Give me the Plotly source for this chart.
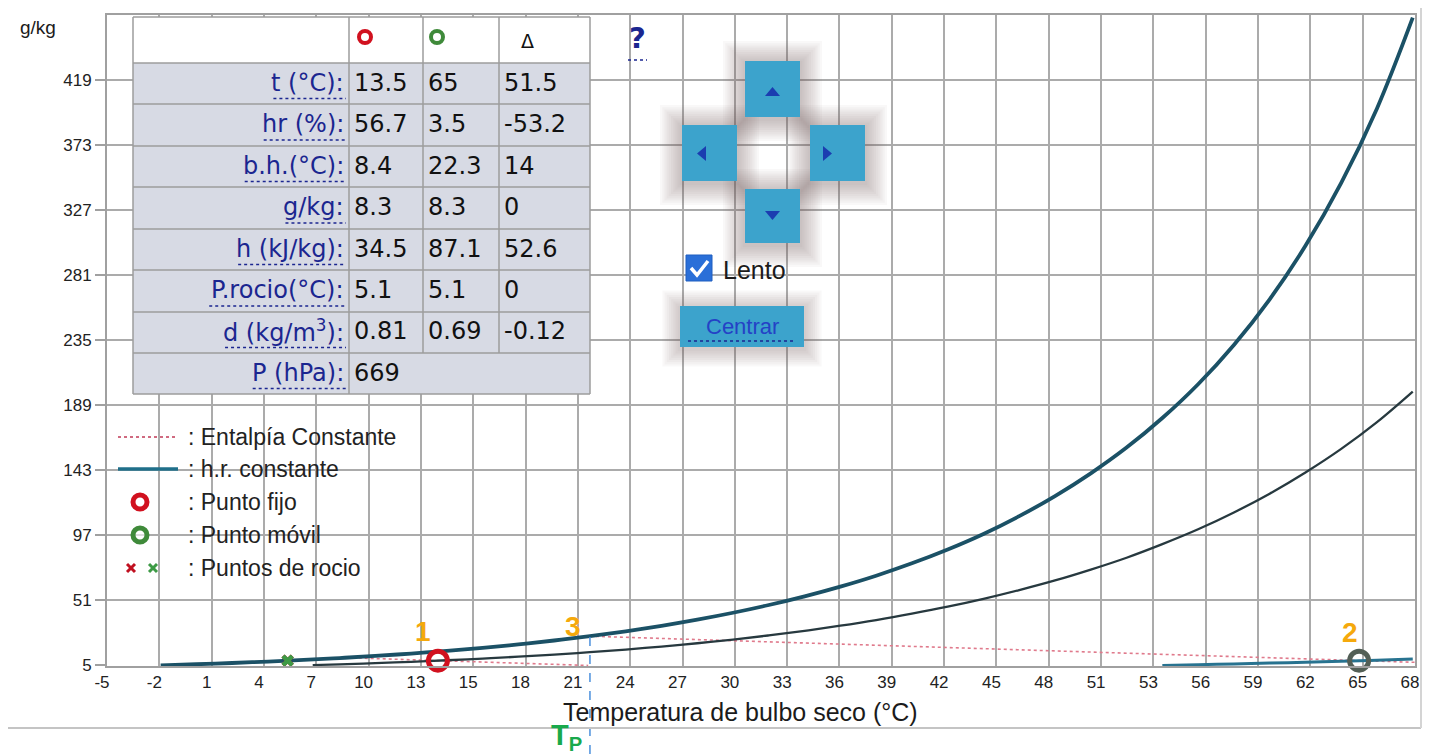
import plotly.graph_objects as go

# ---------------- data ----------------
# saturation curve (100 % h.r.) at 669 hPa
sat_t = [-2, 0, 2, 4, 6, 8, 10, 12, 14, 16, 18, 20, 22, 24, 26, 28, 30, 32, 34, 36,
         38, 40, 42, 44, 46, 48, 50, 52, 54, 56, 58, 60, 62, 64, 66, 68]
sat_w = [4.84, 5.73, 6.63, 7.65, 8.81, 10.14, 11.63, 13.31, 15.23, 17.37, 19.80, 22.54,
         25.60, 29.05, 32.92, 37.27, 42.16, 47.64, 53.78, 60.66, 68.38, 77.12, 86.9, 97.9,
         110.5, 124.7, 140.8, 159.0, 179.9, 203.8, 231.6, 263.9, 301.7, 346.2, 398.9, 463.1]
# constant h.r. through fixed point (56.7 %)
hr_fijo_t = [6.5, 8, 10, 12, 14, 16, 18, 20, 22, 24, 26, 28, 30, 32, 34, 36, 38, 40, 42, 44,
             46, 48, 50, 52, 54, 56, 58, 60, 62, 64, 66, 68]
hr_fijo_w = [5.15, 5.71, 6.54, 7.48, 8.55, 9.73, 11.07, 12.58, 14.27, 16.14, 18.25, 20.59,
             23.2, 26.14, 29.40, 33.0, 37.0, 41.5, 46.45, 52.0, 58.2, 65.0, 72.7, 81.1,
             90.7, 101.2, 113.1, 126.4, 141.4, 158.1, 177.0, 198.6]
# constant h.r. through moving point (3.5 %)
hr_movil_t = [54, 56, 58, 60, 62, 64, 66, 68]
hr_movil_w = [4.92, 5.42, 5.96, 6.55, 7.19, 7.87, 8.62, 9.43]
# constant enthalpy lines
ent_fijo_t = [8.4, 13.5, 21.9]
ent_fijo_w = [10.4, 8.3, 4.9]
ent_movil_t = [22.0, 65, 68.1]
ent_movil_w = [25.6, 8.3, 7.1]
# points
fijo_t, fijo_w = 13.5, 8.3
movil_t, movil_w = 65, 8.3
rocio_t, rocio_w = 5.1, 8.3
p3_t, p3_w = 22.0, 25.6

x_tick_labels = ["-5", "-2", "1", "4", "7", "10", "13", "15", "18", "21", "24", "27", "30",
                 "33", "36", "39", "42", "45", "48", "51", "53", "56", "59", "62", "65", "68"]
y_tick_labels = ["5", "51", "97", "143", "189", "235", "281", "327", "373", "419"]

row_labels = ["t (°C):", "hr (%):", "b.h.(°C):", "g/kg:", "h (kJ/kg):", "P.rocio(°C):",
              "d (kg/m<sup>3</sup>):", "P (hPa):"]
col_fijo = ["13.5", "56.7", "8.4", "8.3", "34.5", "5.1", "0.81", "669"]
col_movil = ["65", "3.5", "22.3", "8.3", "87.1", "5.1", "0.69", ""]
col_delta = ["51.5", "-53.2", "14", "0", "52.6", "0", "-0.12", ""]

legend_items = [": Entalpía Constante", ": h.r. constante", ": Punto fijo",
                ": Punto móvil", ": Puntos de rocio"]

# ---------------- geometry (page pixels) ----------------
PAGE_W, PAGE_H = 1432, 754
OFF = 8                      # default body margin of the html page
W, H = PAGE_W - OFF, PAGE_H - OFF
PL, PR, PT, PB = 107, 1415, 15, 666
X_MIN, X_STEP = -5.0, 2.925
X_MAX = X_MIN + X_STEP * (len(x_tick_labels) - 1)
Y_MIN, Y_MAX = 4.5, 465.0


def px(x):
    return (x - PL) / (PR - PL)


def py(y):
    return (PB - y) / (PB - PT)


shapes = []
annots = []


def rect(x0, y0, x1, y1, fill, lc=None, lw=0, layer="above"):
    shapes.append(dict(type="rect", xref="paper", yref="paper", x0=px(x0), x1=px(x1),
                       y0=py(y1), y1=py(y0), fillcolor=fill, layer=layer,
                       line=dict(width=lw, color=lc if lc else "rgba(0,0,0,0)")))


def seg(x0, y0, x1, y1, color, width=1.5, dash="solid"):
    shapes.append(dict(type="line", xref="paper", yref="paper", x0=px(x0), x1=px(x1),
                       y0=py(y0), y1=py(y1), layer="above",
                       line=dict(color=color, width=width, dash=dash)))


def ring(cx, cy, r, color, width):
    shapes.append(dict(type="circle", xref="paper", yref="paper", x0=px(cx - r),
                       x1=px(cx + r), y0=py(cy + r), y1=py(cy - r), layer="above",
                       fillcolor="rgba(255,255,255,0.6)", line=dict(color=color, width=width)))


def poly(pts, fill=None, color=None, width=0, close=True):
    d = "M " + " L ".join(f"{px(a):.5f},{py(b):.5f}" for a, b in pts) + (" Z" if close else "")
    shapes.append(dict(type="path", xref="paper", yref="paper", path=d, layer="above",
                       fillcolor=fill if fill else "rgba(0,0,0,0)",
                       line=dict(color=color if color else "rgba(0,0,0,0)", width=width)))


def text(x, y, s, size, color="#222", family="Liberation Sans", xa="center", ya="middle"):
    annots.append(dict(x=px(x), y=py(y), xref="paper", yref="paper", text=s, showarrow=False,
                       xanchor=xa, yanchor=ya, font=dict(size=size, color=color, family=family)))


def shadow(x0, y0, x1, y1, n=10, step=2.2, alpha=0.042):
    for i in range(n, 0, -1):
        e = i * step
        rect(x0 - e, y0 - e + 2, x1 + e, y1 + e + 2, f"rgba(115,85,95,{alpha})")


# ---------------- traces ----------------
fig = go.Figure()
ENT = "#e07a8c"
fig.add_trace(go.Scatter(x=ent_fijo_t, y=ent_fijo_w, mode="lines",
                         line=dict(color=ENT, width=1.6, dash="dot"), hoverinfo="skip"))
fig.add_trace(go.Scatter(x=ent_movil_t, y=ent_movil_w, mode="lines",
                         line=dict(color=ENT, width=1.6, dash="dot"), hoverinfo="skip"))
fig.add_trace(go.Scatter(x=hr_fijo_t, y=hr_fijo_w, mode="lines", line_shape="spline",
                         line=dict(color="#27393f", width=2.3)))
fig.add_trace(go.Scatter(x=hr_movil_t, y=hr_movil_w, mode="lines", line_shape="spline",
                         line=dict(color="#287390", width=3)))
fig.add_trace(go.Scatter(x=sat_t, y=sat_w, mode="lines", line_shape="spline",
                         line=dict(color="#1b5166", width=3.8)))
fig.add_trace(go.Scatter(x=[rocio_t], y=[rocio_w], mode="markers",
                         marker=dict(symbol="x", size=11, color="#c01020",
                                     line=dict(width=0)), cliponaxis=False))
fig.add_trace(go.Scatter(x=[rocio_t], y=[rocio_w], mode="markers",
                         marker=dict(symbol="x", size=11, color="#3d9a45",
                                     line=dict(width=0)), cliponaxis=False))
fig.add_trace(go.Scatter(x=[fijo_t], y=[fijo_w], mode="markers", cliponaxis=False,
                         marker=dict(symbol="circle-open", size=19, color="#d1111f",
                                     line=dict(width=5))))
fig.add_trace(go.Scatter(x=[movil_t], y=[movil_w], mode="markers", cliponaxis=False,
                         marker=dict(symbol="circle-open", size=19, color="#535f56",
                                     line=dict(width=5))))

# point labels
GOLD = "#f5a90c"
for (tx, ty, lab, dx, dy) in [(fijo_t, fijo_w, "1", -15, 29), (movil_t, movil_w, "2", -9, 28),
                              (p3_t, p3_w, "3", -17, 10)]:
    annots.append(dict(x=tx, y=ty, xref="x", yref="y", text=f"<b>{lab}</b>", showarrow=False,
                       xshift=dx, yshift=dy, font=dict(size=28, color=GOLD,
                                                       family="Liberation Sans")))

# dashed vertical at point 3 (T_P)
x3p = (p3_t - X_MIN) / (X_MAX - X_MIN)
y3p = (p3_w - Y_MIN) / (Y_MAX - Y_MIN)
shapes.append(dict(type="line", xref="paper", yref="paper", x0=x3p, x1=x3p, y0=py(PAGE_H),
                   y1=y3p, layer="above", line=dict(color="#4a8fdc", width=1.5, dash="dash")))
text(566, 737, "<b>T<sub>P</sub></b>", 29, color="#19a94c")

# container borders
seg(8, 728, 1421, 728, "#c4c4c4", 2)
seg(1421, 8, 1421, 728, "#d4d4d4", 2)

# ---------------- table ----------------
TX = [133, 349, 423, 499, 590]
TY = [17, 63, 104, 146, 187, 229, 270, 312, 353, 394]
BORDER = "#9d9d9d"
NAVY = "#1b2690"
rect(TX[0], TY[0], TX[4], TY[1], "white")
rect(TX[0], TY[1], TX[4], TY[-1], "#d7dae4")
for yv in TY:
    seg(TX[0], yv, TX[4], yv, BORDER, 1.5)
seg(TX[0], TY[0], TX[0], TY[-1], BORDER, 1.5)
seg(TX[4], TY[0], TX[4], TY[-1], BORDER, 1.5)
seg(TX[1], TY[0], TX[1], TY[-1], BORDER, 1.5)
seg(TX[2], TY[0], TX[2], TY[-2], BORDER, 1.5)
seg(TX[3], TY[0], TX[3], TY[-2], BORDER, 1.5)
ring(365, 37, 6, "#d1111f", 4)
ring(437, 37, 6, "#3f8a3a", 4)
text(527, 41, "Δ", 19, color="#111", family="DejaVu Sans")

DJ = {' ': .318, '(': .390, ')': .390, '°': .500, 'C': .698, ':': .337, 't': .392,
      'h': .634, 'r': .411, '%': .950, 'b': .635, '.': .318, 'g': .635, '/': .337,
      'k': .579, 'J': .295, 'P': .603, 'o': .612, 'c': .550, 'i': .278, 'd': .635,
      'm': .974, 'a': .613, '3': .445}
TFS = 24
for i, lab in enumerate(row_labels):
    cy = (TY[i + 1] + TY[i + 2]) / 2
    text(346, cy - 1, lab, TFS, color=NAVY, family="DejaVu Sans", xa="right")
    plain = lab.replace("<sup>", "").replace("</sup>", "")
    wpx = sum(DJ.get(c, .6) for c in plain) * TFS
    seg(346 - wpx, cy + 15, 346, cy + 15, NAVY, 1.5, "dot")
    for col, x0 in [(col_fijo, 352), (col_movil, 426), (col_delta, 502)]:
        if col[i]:
            text(x0, cy - 1, col[i], TFS, color="#111", family="DejaVu Sans", xa="left")

# help mark
text(637, 38, "<b>?</b>", 29, color=NAVY, family="DejaVu Sans")
seg(628, 60, 647, 60, NAVY, 1.5, "dot")

# ---------------- navigation controls ----------------
BTN = "#3ca3cc"
ARW = "#1b3db0"
buttons = [(745, 61, 800, 117), (682, 125, 737, 181), (810, 125, 865, 181), (745, 189, 800, 243)]
for b in buttons:
    shadow(*b)
shadow(680, 306, 804, 347, n=8)
for b in buttons:
    rect(*b, BTN)
poly([(765, 96), (780, 96), (772.5, 87)], fill=ARW)
poly([(765, 211), (780, 211), (772.5, 220)], fill=ARW)
poly([(706, 146), (706, 161), (697, 153.5)], fill=ARW)
poly([(823, 146), (823, 161), (832, 153.5)], fill=ARW)
# checkbox
rect(686, 255, 712, 281, "#2a6fd8", "#1f5fc0", 1)
poly([(691, 268), (697, 275), (708, 261)], color="white", width=3.5, close=False)
text(721, 270, "Lento", 25, color="#1b1b1b", xa="left")
# centrar button
rect(680, 306, 804, 347, BTN)
text(742, 326, "Centrar", 22, color="#2442c6")
seg(688, 341, 796, 341, NAVY, 1.5, "dot")

# ---------------- legend ----------------
LY = [437, 469, 502, 535, 568]
seg(118, LY[0], 178, LY[0], "#d06a80", 2, "dot")
seg(118, LY[1], 178, LY[1], "#1f6f8a", 3.5)
ring(140, LY[2], 7, "#d1111f", 5)
ring(140, LY[3], 7, "#3f8a3a", 5)
for cx, col in [(131, "#c01020"), (153, "#3d9a45")]:
    seg(cx - 4, LY[4] - 4, cx + 4, LY[4] + 4, col, 3)
    seg(cx - 4, LY[4] + 4, cx + 4, LY[4] - 4, col, 3)
for yy, s in zip(LY, legend_items):
    text(186, yy, s, 23, color="#222", xa="left")

# axis title texts
text(740, 712, "Temperatura de bulbo seco (°C)", 25, color="#1b1b1b")
text(38, 28, "g/kg", 19, color="#1b1b1b")

# ---------------- layout ----------------
x_tick_vals = [X_MIN + k * X_STEP for k in range(len(x_tick_labels))]
y_tick_vals = [float(v) for v in y_tick_labels]

GRID = "#ababab"
fig.update_layout(
    width=W, height=H, showlegend=False,
    margin=dict(l=PL - OFF, r=PAGE_W - PR, t=PT - OFF, b=PAGE_H - PB, autoexpand=False),
    paper_bgcolor="white", plot_bgcolor="white",
    shapes=shapes, annotations=annots,
    xaxis=dict(range=[X_MIN, X_MAX], tickvals=x_tick_vals, ticktext=x_tick_labels,
               showgrid=True, gridcolor=GRID, gridwidth=2, zeroline=False,
               showline=True, linecolor="#a0a0a0", linewidth=2, mirror=True,
               ticks="", tickfont=dict(size=17, color="#222", family="Liberation Sans"),
               ticklabelshift=-5, ticklabelstandoff=0),
    yaxis=dict(range=[Y_MIN, Y_MAX], tickvals=y_tick_vals, ticktext=y_tick_labels,
               showgrid=True, gridcolor=GRID, gridwidth=2, zeroline=False,
               showline=True, linecolor="#a0a0a0", linewidth=2, mirror=True,
               ticks="outside", ticklen=10, tickcolor="#a0a0a0", tickwidth=1.5,
               tickfont=dict(size=17, color="#222", family="Liberation Sans")),
)

fig.write_html("out.html")
